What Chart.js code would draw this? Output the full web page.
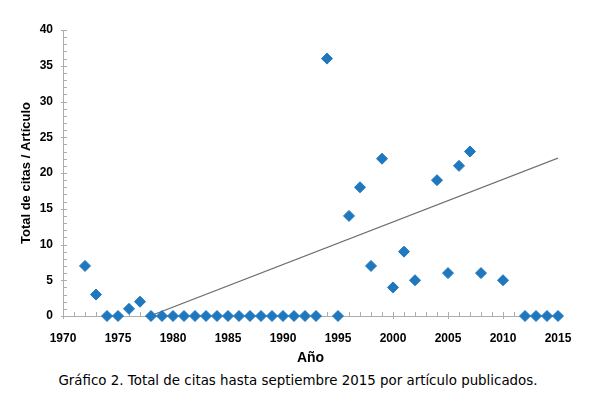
<!DOCTYPE html>
<html>
<head>
<meta charset="utf-8">
<script src="https://cdn.jsdelivr.net/npm/chart.js@4/dist/chart.umd.min.js"></script>
<style>
  html, body { margin: 0; padding: 0; background: #fff; }
  #wrap { position: relative; width: 590px; height: 399px; }
  #chart { position: absolute; left: 0; top: 0; }
  #caption {
    position: absolute; left: 0; top: 373px; width: 596px; text-align: center;
    font: 13.4px "DejaVu Sans", Verdana, sans-serif; color: #000;
  }
</style>
</head>
<body>
<div id="wrap">
  <canvas id="chart" width="590" height="367"></canvas>
  <div id="caption">Gráfico 2. Total de citas hasta septiembre 2015 por artículo publicados.</div>
</div>
<script>
// ── Data ──────────────────────────────────────────────────────────────────
const years = [
    1972, 1973, 1974, 1975, 1976, 1977, 1978, 1979, 1980, 1981, 1982, 1983, 1984,
    1985, 1986, 1987, 1988, 1989, 1990, 1991, 1992, 1993, 1994, 1995, 1996, 1997,
    1998, 1999, 2000, 2001, 2002, 2004, 2005, 2006, 2007, 2008, 2010, 2012, 2013,
    2014, 2015,
];
const citas = [
    7, 3, 0, 0, 1, 2, 0, 0, 0, 0, 0, 0, 0,
    0, 0, 0, 0, 0, 0, 0, 0, 0, 36, 0, 14, 18,
    7, 22, 4, 9, 5, 19, 6, 21, 23, 6, 5, 0, 0,
    0, 0,
];
// trend line end points as drawn in the original
const trendYears = [1977.9, 2015];
const trendValues = [0, 22.1];

const yTitle = 'Total de citas / Artículo';
const xTitle = 'Año';

const AXIS_GRAY = '#ADADAD';
const BLUE = '#1F78BE';

// ── Minor tick marks (inside the plot, Excel style) ──────────────────────
const tickMarks = {
    id: 'tickMarks',
    beforeDatasetsDraw(chart) {
        const { ctx, chartArea, scales } = chart;
        const x = scales.x;
        const y = scales.y;
        ctx.save();
        ctx.strokeStyle = AXIS_GRAY;
        ctx.lineWidth = 1;
        ctx.beginPath();
        for (let v = x.min; v <= x.max; v++) {
            const px = Math.round(x.getPixelForValue(v)) + 0.5;
            const major = v % 5 === 0;
            ctx.moveTo(px, chartArea.bottom - 4);
            ctx.lineTo(px, chartArea.bottom + (major ? 3 : 0));
        }
        for (let v = y.min; v <= y.max; v++) {
            const py = Math.round(y.getPixelForValue(v)) + 0.5;
            const major = v % 5 === 0;
            ctx.moveTo(chartArea.left - (major ? 2 : 0), py);
            ctx.lineTo(chartArea.left + 4, py);
        }
        ctx.stroke();
        ctx.restore();
    },
};

new Chart(document.getElementById('chart'), {
    type: 'scatter',
    data: {
        datasets: [
            {
                label: 'Citas',
                data: years.map((yr, i) => ({ x: yr, y: citas[i] })),
                pointStyle: 'rectRot',
                pointRadius: 5.5,
                pointBackgroundColor: BLUE,
                pointBorderColor: BLUE,
                pointBorderWidth: 1,
                clip: false,
                order: 1,
            },
            {
                label: 'Tendencia',
                type: 'line',
                data: trendYears.map((yr, i) => ({ x: yr, y: trendValues[i] })),
                borderColor: '#6E6E6E',
                borderWidth: 1.2,
                pointRadius: 0,
                fill: false,
                order: 2,
            },
        ],
    },
    options: {
        responsive: false,
        animation: false,
        layout: { padding: { left: 19, top: 30, right: 32, bottom: 0 } },
        plugins: {
            legend: { display: false },
            tooltip: { enabled: false },
        },
        scales: {
            x: {
                type: 'linear',
                min: 1970,
                max: 2015,
                grid: { display: false, drawTicks: false },
                border: { color: AXIS_GRAY, width: 1 },
                ticks: {
                    stepSize: 5,
                    padding: 15,
                    color: '#000',
                    font: { family: 'Liberation Sans', size: 12, weight: 'bold' },
                    callback: (v) => String(v),
                },
                title: {
                    display: true,
                    text: xTitle,
                    color: '#000',
                    font: { family: 'Liberation Sans', size: 14, weight: 'bold' },
                    padding: { top: 2, bottom: 0 },
                },
                afterFit(scale) { scale.height = 51; },
            },
            y: {
                min: 0,
                max: 40,
                grid: { display: false, drawTicks: false },
                border: { color: AXIS_GRAY, width: 1 },
                ticks: {
                    stepSize: 5,
                    padding: 10,
                    color: '#000',
                    font: { family: 'Liberation Sans', size: 12, weight: 'bold' },
                },
                title: {
                    display: true,
                    text: yTitle,
                    color: '#000',
                    font: { family: 'Liberation Sans', size: 13, weight: 'bold' },
                    padding: { top: 0, bottom: 4 },
                },
                afterFit(scale) { scale.width = 44; },
            },
        },
    },
    plugins: [tickMarks],
});
</script>
</body>
</html>
